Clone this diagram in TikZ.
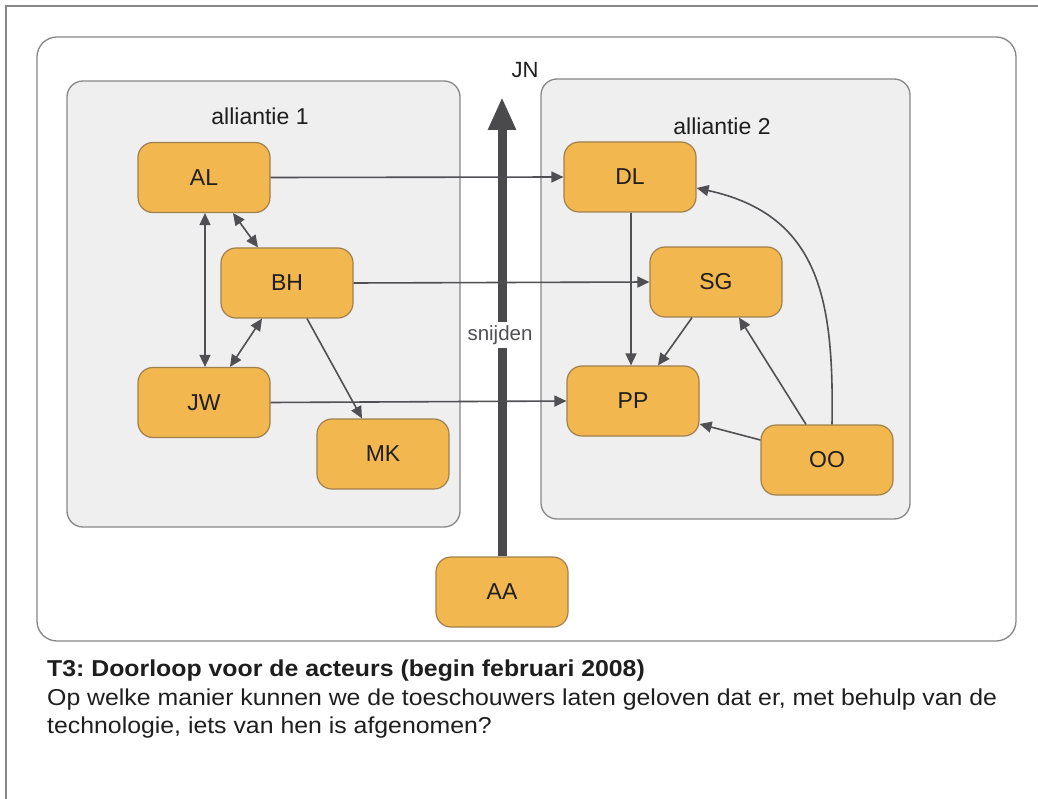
\documentclass[tikz,border=0pt]{standalone}
\usepackage{fontspec}
\setmainfont{Liberation Sans}
\newfontfamily\widefont[FakeStretch=1.08]{Liberation Sans}
\usetikzlibrary{arrows.meta}
\definecolor{nodefill}{RGB}{242,183,78}
\definecolor{nodedraw}{RGB}{160,128,78}
\definecolor{grpfill}{RGB}{239,239,239}
\definecolor{grpdraw}{RGB}{135,135,135}
\definecolor{edgecol}{RGB}{80,80,84}
\definecolor{bigarrow}{RGB}{74,74,76}
\definecolor{txt}{RGB}{30,30,30}
\frenchspacing
\begin{document}
\begin{tikzpicture}[x=1pt,y=-1pt,
  actor/.style={draw=nodedraw, line width=1.2pt, fill=nodefill, rounded corners=15pt,
    minimum width=132pt, minimum height=70pt, inner sep=0pt,
    font=\fontsize{23}{27}\selectfont, text=txt},
  grp/.style={draw=grpdraw, line width=1.3pt, fill=grpfill, rounded corners=16pt, inner sep=0pt},
  lbl/.style={font=\fontsize{23}{27}\selectfont, text=txt, inner sep=0pt},
  edge/.style={draw=edgecol, line width=1.6pt, -{Triangle[length=12pt,width=11pt]}},
  biedge/.style={edge, {Triangle[length=12pt,width=11pt]}-{Triangle[length=12pt,width=11pt]}},
  body/.style={anchor=base west, inner sep=0pt, text=txt, font=\widefont\fontsize{23}{27}\selectfont},
]
\useasboundingbox (0,0) rectangle (1038,799);
\fill[white] (0,0) rectangle (1038,799);
% page frame
\draw[grpdraw, line width=1.2pt] (6,799) -- (6,6) -- (1038,6);
% outer board
\node[draw=grpdraw, line width=1.3pt, fill=white, rounded corners=20pt, inner sep=0pt,
  minimum width=979pt, minimum height=604pt] (board) at (526.5,339) {};
% groups
\node[grp, minimum width=393pt, minimum height=446pt] (g1) at (263.5,304) {};
\node[grp, minimum width=369pt, minimum height=440pt] (g2) at (725.5,299) {};
\node[lbl] (g1lbl) at (260,116) {alliantie 1};
\node[lbl] (g2lbl) at (722,126) {alliantie 2};
% actors
\node[actor] (AL) at (204,177.5) {AL};
\node[actor] (BH) at (287,283) {BH};
\node[actor] (JW) at (204,402.5) {JW};
\node[actor] (MK) at (383,454) {MK};
\node[actor] (DL) at (630,177) {DL};
\node[actor] (SG) at (716,282) {SG};
\node[actor] (PP) at (633,401) {PP};
\node[actor] (OO) at (827,460) {OO};
\node[actor] (AA) at (502,592) {AA};
% big arrow
\coordinate (JNtip) at (502,97);
\node[lbl, font=\fontsize{22}{26}\selectfont] (JN) at (525,70) {JN};
\draw[bigarrow, line width=9pt, -{Triangle[length=33pt,width=26pt]}] (AA.north) -- (JNtip);
\node[fill=white, inner sep=3pt, text=edgecol, font=\fontsize{20.5}{24}\selectfont] (cut) at (500,335) {snijden};
% edges
\draw[edge] (AL.east) -- (DL.west);
\draw[biedge] ([xshift=29pt]AL.south) -- ([xshift=-29pt]BH.north);
\draw[biedge] ([xshift=1pt]AL.south) -- ([xshift=1pt]JW.north);
\draw[biedge] ([xshift=-25pt]BH.south) -- ([xshift=26pt]JW.north);
\draw[edge] ([xshift=20pt]BH.south) -- ([xshift=-21pt]MK.north);
\draw[edge] (BH.east) -- (SG.west);
\draw[edge] (JW.east) -- (PP.west);
\draw[edge] ([xshift=1pt]DL.south) -- ([xshift=-2pt]PP.north);
\draw[edge] ([xshift=-24pt]SG.south) -- ([xshift=25pt]PP.north);
\draw[edge] ([xshift=-21pt]OO.north) -- ([xshift=23pt]SG.south);
\draw[edge] ([yshift=20pt]OO.west) -- ([yshift=-23pt]PP.east);
\draw[edge] ([xshift=5pt]OO.north) .. controls (834,300) and (820,215) .. ([yshift=-11pt]DL.east);
% caption
\node[body, font=\widefont\fontsize{23}{27}\selectfont\bfseries] (title) at (47,676) {T3: Doorloop voor de acteurs (begin februari 2008)};
\node[body] (q1) at (47,705) {Op welke manier kunnen we de toeschouwers laten geloven dat er, met behulp van de};
\node[body] (q2) at (47,733) {technologie, iets van hen is afgenomen?};
\end{tikzpicture}
\end{document}
